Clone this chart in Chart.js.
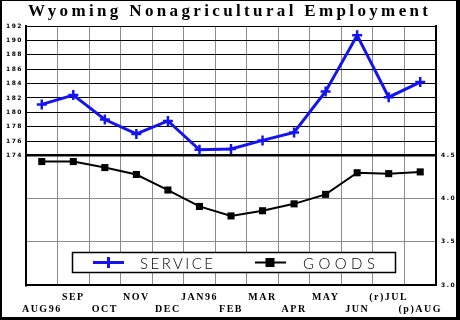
<!DOCTYPE html>
<html>
<head>
<meta charset="utf-8">
<script src="https://cdn.jsdelivr.net/npm/chart.js@4.4.1/dist/chart.umd.min.js"></script>
<style>
html, body { margin: 0; padding: 0; background: #fff; }
canvas { display: block; }
</style>
</head>
<body>
<canvas id="chart" width="460" height="320"></canvas>
<script>
const months = ['AUG96', 'SEP', 'OCT', 'NOV', 'DEC', 'JAN96', 'FEB', 'MAR', 'APR', 'MAY', 'JUN', '(r)JUL', '(p)AUG'];
const serviceValues = [181.1, 182.4, 179.0, 177.0, 178.8, 174.8, 174.9, 176.1, 177.2, 182.9, 190.7, 182.1, 184.2];
const goodsValues = [4.43, 4.43, 4.36, 4.28, 4.10, 3.91, 3.80, 3.86, 3.94, 4.05, 4.30, 4.29, 4.31];
const serviceTicks = [174, 176, 178, 180, 182, 184, 186, 188, 190, 192];
const goodsTicks = [3.0, 3.5, 4.0, 4.5];
const titleText = 'Wyoming Nonagricultural Employment';

const blue = '#1414f0';
const gray = '#8c8c8c';

// draws text starting at x, stretched with letter spacing to fill width
function spacedText(ctx, text, x, y, width) {
    ctx.letterSpacing = '0px';
    let natural = ctx.measureText(text).width;
    let ls = (width - natural) / (text.length - 1);
    ctx.letterSpacing = ls + 'px';
    ctx.textAlign = 'left';
    ctx.fillText(text, x, y);
    ctx.letterSpacing = '0px';
}

const decorations = {
    id: 'decorations',
    beforeDraw(chart) {
        chart.ctx.letterSpacing = '1.5px';
    },
    afterDraw(chart) {
        const ctx = chart.ctx;
        ctx.save();
        ctx.letterSpacing = '0px';

        // title
        ctx.fillStyle = '#000';
        ctx.font = 'bold 17px "Liberation Serif"';
        ctx.textBaseline = 'alphabetic';
        spacedText(ctx, titleText, 28, 16, 400);

        // legend box
        ctx.fillStyle = '#fff';
        ctx.fillRect(72, 252, 324, 20);
        ctx.strokeStyle = '#000';
        ctx.lineWidth = 1.5;
        ctx.strokeRect(72.5, 252.5, 323, 20);

        const sets = chart.data.datasets;
        // service sample
        ctx.strokeStyle = sets[0].borderColor;
        ctx.lineWidth = 3;
        ctx.beginPath();
        ctx.moveTo(93, 262.5); ctx.lineTo(124, 262.5);
        ctx.moveTo(108.5, 257); ctx.lineTo(108.5, 268);
        ctx.stroke();
        // goods sample
        ctx.strokeStyle = sets[1].borderColor;
        ctx.lineWidth = 2;
        ctx.beginPath();
        ctx.moveTo(255, 262.5); ctx.lineTo(286, 262.5);
        ctx.stroke();
        ctx.fillStyle = sets[1].borderColor;
        ctx.fillRect(265.5, 258, 9, 9);

        ctx.fillStyle = '#000';
        ctx.font = '300 15px Lato';
        spacedText(ctx, sets[0].label, 140, 268.5, 73);
        spacedText(ctx, sets[1].label, 303, 268.5, 72);

        // outer frame
        ctx.fillStyle = '#000';
        ctx.fillRect(0, 0, 460, 1);
        ctx.fillRect(0, 0, 2, 320);
        ctx.fillRect(456, 0, 4, 320);
        ctx.fillRect(0, 317, 460, 3);
        ctx.restore();
    }
};

new Chart(document.getElementById('chart').getContext('2d'), {
    type: 'line',
    data: {
        labels: months,
        datasets: [{
            label: 'SERVICE',
            data: serviceValues,
            yAxisID: 'ySvc',
            borderColor: blue,
            backgroundColor: blue,
            borderWidth: 3,
            pointStyle: 'cross',
            pointRadius: 5,
            pointBorderWidth: 2.5,
            tension: 0,
            fill: false
        }, {
            label: 'GOODS',
            data: goodsValues,
            yAxisID: 'yGoods',
            borderColor: '#000',
            backgroundColor: '#000',
            borderWidth: 2,
            pointStyle: 'rect',
            pointRadius: 5,
            pointBorderWidth: 0,
            tension: 0,
            fill: false
        }]
    },
    options: {
        responsive: false,
        maintainAspectRatio: false,
        animation: false,
        layout: { padding: { top: 26, left: 0, right: 0, bottom: 0 } },
        plugins: {
            legend: { display: false },
            title: { display: false },
            tooltip: { enabled: false }
        },
        scales: {
            x: {
                offset: true,
                grid: { offset: true, color: gray, lineWidth: 1, drawTicks: false },
                border: { color: '#000', width: 2 },
                ticks: {
                    autoSkip: false,
                    maxRotation: 0,
                    padding: 6,
                    color: '#000',
                    font: { family: 'Liberation Serif', weight: 'bold', size: 10, lineHeight: 1.2 },
                    callback: (v, i) => i % 2 ? [months[i], ''] : ['', months[i]]
                },
                afterFit: s => { s.height = 35; }
            },
            ySvc: {
                position: 'left',
                min: 156,
                max: 192,
                afterBuildTicks: s => { s.ticks = serviceTicks.map(v => ({ value: v })); },
                grid: {
                    color: '#000',
                    lineWidth: c => c.tick && c.tick.value === 174 ? 2.5 : 1,
                    drawTicks: false
                },
                border: { color: '#000', width: 2 },
                ticks: {
                    padding: 3,
                    color: '#000',
                    font: { family: 'DejaVu Sans', weight: 'bold', size: 6 },
                    callback: v => String(v)
                },
                afterFit: s => { s.width = 26; }
            },
            yGoods: {
                position: 'right',
                min: 3,
                max: 6,
                afterBuildTicks: s => { s.ticks = goodsTicks.map(v => ({ value: v })); },
                grid: {
                    color: c => c.tick && (c.tick.value === 3.5 || c.tick.value === 4) ? gray : 'rgba(0,0,0,0)',
                    lineWidth: 1,
                    drawTicks: false
                },
                border: { color: '#000', width: 2 },
                ticks: {
                    padding: 5,
                    color: '#000',
                    font: { family: 'DejaVu Sans', weight: 'bold', size: 6 },
                    callback: v => Number(v).toFixed(1)
                },
                afterFit: s => { s.width = 24; }
            }
        }
    },
    plugins: [decorations]
});
</script>
</body>
</html>
